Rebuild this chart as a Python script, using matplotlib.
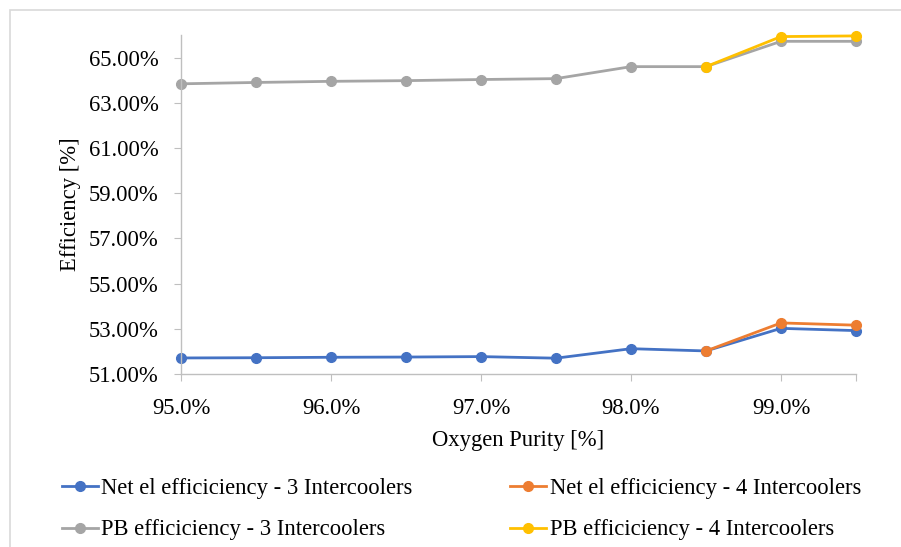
#==========================================================================
# Efficiency vs oxygen purity, 3 vs 4 intercoolers
#==========================================================================
import numpy as np
import matplotlib.pyplot as plt
from matplotlib.patches import Rectangle
from matplotlib.ticker import FuncFormatter

plt.rcParams['font.family'] = ['Liberation Serif', 'DejaVu Serif']

# oxygen purity [%]
purity = [95.0, 95.5, 96.0, 96.5, 97.0, 97.5, 98.0, 98.5, 99.0, 99.5]
purity_4ic = [98.5, 99.0, 99.5]

# efficiencies [%]
net_3ic = [51.71, 51.72, 51.74, 51.75, 51.77, 51.70, 52.12, 52.02, 53.02, 52.92]
net_4ic = [52.02, 53.26, 53.16]
pb_3ic = [63.84, 63.90, 63.95, 63.98, 64.03, 64.07, 64.60, 64.60, 65.72, 65.72]
pb_4ic = [64.60, 65.93, 65.96]

labels = ["Net el efficiciency - 3 Intercoolers",
          "Net el efficiciency - 4 Intercoolers",
          "PB efficiciency - 3 Intercoolers",
          "PB efficiciency - 4 Intercoolers"]
colors = ['#4472C4', '#ED7D31', '#A5A5A5', '#FFC000']
fs = 16.3

fig = plt.figure(figsize=(9.01, 5.47), dpi=100)
ax = fig.add_axes([181/901, 1-374/547, (856-181)/901, (374-35)/547])

# outer chart frame
fig.patches.append(Rectangle((10/901, -0.1), 1.0, 537/547 + 0.1,
                             transform=fig.transFigure, fill=False,
                             edgecolor='#D9D9D9', linewidth=1.2))

style = dict(linewidth=2.0, marker='o', markersize=7)
l1, = ax.plot(purity, net_3ic, color=colors[0], label=labels[0], **style)
l2, = ax.plot(purity_4ic, net_4ic, color=colors[1], label=labels[1], **style)
l3, = ax.plot(purity, pb_3ic, color=colors[2], label=labels[2], **style)
l4, = ax.plot(purity_4ic, pb_4ic, color=colors[3], label=labels[3], **style)
for l in (l1, l2, l3, l4):
    l.set_clip_on(False)

ax.set_xlim(95.0, 99.5)
ax.set_ylim(51, 66)
ax.set_yticks(np.arange(51, 66, 2))
ax.yaxis.set_major_formatter(FuncFormatter(lambda v, p: f"{v:.2f}%"))
ax.set_xticks([95, 96, 97, 98, 99, 99.5])
ax.set_xticklabels(["95.0%", "96.0%", "97.0%", "98.0%", "99.0%", ""])

for s in ['top', 'right']:
    ax.spines[s].set_visible(False)
for s in ['left', 'bottom']:
    ax.spines[s].set_color('#BFBFBF')
    ax.spines[s].set_linewidth(1.0)
ax.tick_params(axis='both', colors='#BFBFBF', labelcolor='black',
               labelsize=fs, length=5)
ax.tick_params(axis='y', pad=11)
ax.tick_params(axis='x', pad=12)

ax.set_xlabel("Oxygen Purity [%]", fontsize=fs, labelpad=8)
ax.set_ylabel("Efficiency [%]", fontsize=fs, labelpad=6)

fig.legend([l1, l3, l2, l4], [labels[0], labels[2], labels[1], labels[3]],
           ncol=2, loc='center', bbox_to_anchor=(0.512, 0.069),
           frameon=False, fontsize=fs, handlelength=1.6,
           handletextpad=0.15, columnspacing=4.3, labelspacing=0.9)

fig.savefig("out.png", dpi=100)
